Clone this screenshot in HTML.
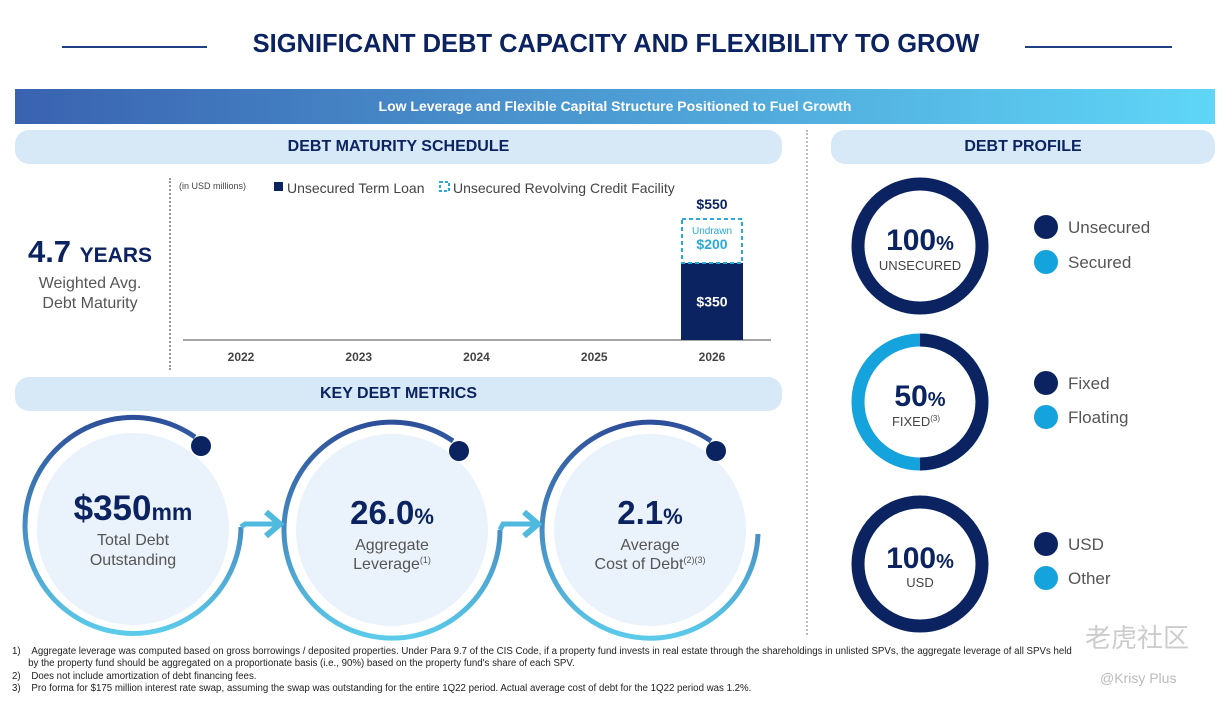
<!DOCTYPE html>
<html><head><meta charset="utf-8">
<style>
body{margin:0;width:1232px;height:705px;background:#fff;font-family:"Liberation Sans","Noto Sans CJK SC",sans-serif;position:relative;overflow:hidden;color:#0b2360}
.a{position:absolute}
.pill{position:absolute;background:#d7e9f7;border-radius:14px;text-align:center;font-weight:bold;font-size:16px;color:#0b2360;line-height:34px}
.fn{position:absolute;left:12px;font-size:9.7px;color:#222;line-height:12px;white-space:nowrap}
</style></head><body>
<div class="a" style="left:62px;top:46px;width:145px;height:2px;background:#1f3f82"></div>
<div class="a" style="left:1025px;top:46px;width:147px;height:2px;background:#1f3f82"></div>
<div class="a" style="left:200px;top:30px;width:832px;text-align:center;font-size:25.5px;font-weight:bold;color:#0b2360">SIGNIFICANT DEBT CAPACITY AND FLEXIBILITY TO GROW</div>
<div class="a" style="left:15px;top:89px;width:1200px;height:35px;background:linear-gradient(90deg,#3a62b0,#5fd6f7);color:#fff;font-weight:bold;font-size:14px;text-align:center;line-height:35px">Low Leverage and Flexible Capital Structure Positioned to Fuel Growth</div>
<div class="pill" style="left:15px;top:130px;width:767px">DEBT MATURITY SCHEDULE</div>
<div class="pill" style="left:831px;top:130px;width:384px">DEBT PROFILE</div>
<div class="pill" style="left:15px;top:377px;width:767px">KEY DEBT METRICS</div>
<div class="a" style="left:806px;top:130px;height:505px;border-left:2px dotted #bbb"></div>
<div class="a" style="left:169px;top:178px;height:192px;border-left:2px dotted #999"></div>

<div class="a" style="left:15px;top:234px;width:150px;text-align:center;font-weight:bold;font-size:31px">4.7 <span style="font-size:21px">YEARS</span></div>
<div class="a" style="left:15px;top:274px;width:150px;text-align:center;font-size:16px;color:#555;line-height:20px">Weighted Avg.<br>Debt Maturity</div>

<svg class="a" style="left:0;top:0" width="1232" height="705" id="chart">
<text x="179" y="189" font-size="9" fill="#444">(in USD millions)</text>
<rect x="274" y="182" width="9" height="9" fill="#0b2360"/>
<text x="287" y="193" font-size="14" fill="#444">Unsecured Term Loan</text>
<rect x="440" y="182" width="9" height="9" fill="none" stroke="#2aa9dd" stroke-width="2" stroke-dasharray="3,2"/>
<text x="453" y="193" font-size="14" fill="#444">Unsecured Revolving Credit Facility</text>
<line x1="183" y1="340" x2="771" y2="340" stroke="#888" stroke-width="1.5"/>
</svg>
<script>
const years=['2022','2023','2024','2025','2026'];
const termLoan=[0,0,0,0,350];
const revolver=[0,0,0,0,200];
const svg=document.getElementById('chart');const NS='http://www.w3.org/2000/svg';
const x0=241,dx=117.75,base=340,sc=(340-263)/350,bw=62;
const X=i=>x0+i*dx, H=v=>v*sc;
years.forEach((y,i)=>{
 let t=document.createElementNS(NS,'text');t.setAttribute('x',X(i));t.setAttribute('y',361);t.setAttribute('text-anchor','middle');t.setAttribute('font-size','12');t.setAttribute('font-weight','bold');t.setAttribute('fill','#444');t.textContent=y;
 
 
 svg.appendChild(t);
 if(termLoan[i]>0){
  let r=document.createElementNS(NS,'rect');let h=H(termLoan[i]);
  r.setAttribute('x',X(i)-bw/2);r.setAttribute('y',base-h);r.setAttribute('width',bw);r.setAttribute('height',h);r.setAttribute('fill','#0b2360');
  
  
  svg.appendChild(r);
  let l=document.createElementNS(NS,'text');l.setAttribute('x',X(i));l.setAttribute('y',base-h/2+5);l.setAttribute('text-anchor','middle');l.setAttribute('font-size','14');l.setAttribute('font-weight','bold');l.setAttribute('fill','#fff');l.textContent='$'+termLoan[i];svg.appendChild(l);
 }
 if(revolver[i]>0){
  let h0=H(termLoan[i]),h=H(revolver[i]);
  let r=document.createElementNS(NS,'rect');
  r.setAttribute('x',X(i)-bw/2+1);r.setAttribute('y',base-h0-h);r.setAttribute('width',bw-2);r.setAttribute('height',h);r.setAttribute('fill','none');r.setAttribute('stroke','#2aa9dd');r.setAttribute('stroke-width','2');r.setAttribute('stroke-dasharray','4,3');
  
  
  svg.appendChild(r);
  let u=document.createElementNS(NS,'text');u.setAttribute('x',X(i));u.setAttribute('y',base-h0-h+15);u.setAttribute('text-anchor','middle');u.setAttribute('font-size','10');u.setAttribute('fill','#2aa9dd');u.textContent='Undrawn';svg.appendChild(u);
  let v=document.createElementNS(NS,'text');v.setAttribute('x',X(i));v.setAttribute('y',base-h0-h+30);v.setAttribute('text-anchor','middle');v.setAttribute('font-size','14');v.setAttribute('font-weight','bold');v.setAttribute('fill','#2aa9dd');v.textContent='$'+revolver[i];svg.appendChild(v);
  let tt=document.createElementNS(NS,'text');tt.setAttribute('x',X(i));tt.setAttribute('y',base-h0-h-10);tt.setAttribute('text-anchor','middle');tt.setAttribute('font-size','14');tt.setAttribute('font-weight','bold');tt.setAttribute('fill','#0b2360');tt.textContent='$'+(termLoan[i]+revolver[i]);
  
  
  svg.appendChild(tt);
 }
});
</script>

<svg class="a" style="left:0;top:0" width="1232" height="705">
<defs><linearGradient id="g" x1="0" y1="0" x2="0" y2="1"><stop offset="0" stop-color="#2d4f9a"/><stop offset="1" stop-color="#5ccbea"/></linearGradient></defs>
<g fill="none" stroke-width="5">
<circle cx="133" cy="529" r="96" fill="#eaf3fb" stroke="none"/>
<circle cx="392" cy="530" r="96" fill="#eaf3fb" stroke="none"/>
<circle cx="650" cy="530" r="96" fill="#eaf3fb" stroke="none"/>
<path d="M195,437 A108,108 0 1 0 241,527" stroke="url(#g)"/>
<path d="M453,441 A108,108 0 1 0 500,530" stroke="url(#g)"/>
<path d="M711,441 A108,108 0 1 0 758,534" stroke="url(#g)"/>
<path d="M241,527 L245,524 L280,524" stroke="#4fb9de"/>
<path d="M266,512 L280,524 L266,536" stroke="#4fb9de" stroke-width="6"/>
<path d="M500,530 L503,524 L538,524" stroke="#4fb9de"/>
<path d="M524,512 L538,524 L524,536" stroke="#4fb9de" stroke-width="6"/>
</g>
<circle cx="201" cy="446" r="10" fill="#0b2360"/><circle cx="459" cy="451" r="10" fill="#0b2360"/><circle cx="716" cy="451" r="10" fill="#0b2360"/>
<text x="133" y="520" text-anchor="middle" font-weight="bold" font-size="35" fill="#0b2360">$350<tspan font-size="23">mm</tspan></text>
<text x="133" y="545" text-anchor="middle" font-size="16" fill="#555">Total Debt</text>
<text x="133" y="565" text-anchor="middle" font-size="16" fill="#555">Outstanding</text>
<text x="392" y="524" text-anchor="middle" font-weight="bold" font-size="33" fill="#0b2360">26.0<tspan font-size="22">%</tspan></text>
<text x="392" y="550" text-anchor="middle" font-size="16" fill="#555">Aggregate</text>
<text x="392" y="569" text-anchor="middle" font-size="16" fill="#555">Leverage<tspan font-size="9" dy="-6">(1)</tspan></text>
<text x="650" y="524" text-anchor="middle" font-weight="bold" font-size="33" fill="#0b2360">2.1<tspan font-size="22">%</tspan></text>
<text x="650" y="550" text-anchor="middle" font-size="16" fill="#555">Average</text>
<text x="650" y="569" text-anchor="middle" font-size="16" fill="#555">Cost of Debt<tspan font-size="9" dy="-6">(2)(3)</tspan></text>
</svg>

<svg class="a" style="left:0;top:0" width="1232" height="705">
<g fill="none" stroke-width="13">
<circle cx="920" cy="246" r="62" stroke="#0b2360"/>
<circle cx="920" cy="402" r="62" stroke="#14a3dd"/>
<path d="M920,340 A62,62 0 0 1 920,464" stroke="#0b2360"/>
<circle cx="920" cy="564" r="62" stroke="#0b2360"/>
</g>
<g text-anchor="middle" fill="#0b2360">
<text x="920" y="250" font-size="30" font-weight="bold">100<tspan font-size="20">%</tspan></text>
<text x="920" y="270" font-size="13" fill="#444">UNSECURED</text>
<text x="920" y="406" font-size="30" font-weight="bold">50<tspan font-size="20">%</tspan></text>
<text x="916" y="426" font-size="13" fill="#444">FIXED<tspan font-size="8" dy="-5">(3)</tspan></text>
<text x="920" y="568" font-size="30" font-weight="bold">100<tspan font-size="20">%</tspan></text>
<text x="920" y="587" font-size="13" fill="#444">USD</text>
</g>
<g font-size="17" fill="#555">
<circle cx="1046" cy="227" r="12" fill="#0b2360"/><text x="1068" y="233">Unsecured</text>
<circle cx="1046" cy="262" r="12" fill="#14a3dd"/><text x="1068" y="268">Secured</text>
<circle cx="1046" cy="383" r="12" fill="#0b2360"/><text x="1068" y="389">Fixed</text>
<circle cx="1046" cy="417" r="12" fill="#14a3dd"/><text x="1068" y="423">Floating</text>
<circle cx="1046" cy="544" r="12" fill="#0b2360"/><text x="1068" y="550">USD</text>
<circle cx="1046" cy="578" r="12" fill="#14a3dd"/><text x="1068" y="584">Other</text>
</g>
</svg>

<div class="fn" style="top:646px">1)&nbsp;&nbsp;&nbsp;&nbsp;Aggregate leverage was computed based on gross borrowings / deposited properties. Under Para 9.7 of the CIS Code, if a property fund invests in real estate through the shareholdings in unlisted SPVs, the aggregate leverage of all SPVs held<br>&nbsp;&nbsp;&nbsp;&nbsp;&nbsp;&nbsp;by the property fund should be aggregated on a proportionate basis (i.e., 90%) based on the property fund's share of each SPV.</div>
<div class="fn" style="top:671px">2)&nbsp;&nbsp;&nbsp;&nbsp;Does not include amortization of debt financing fees.</div>
<div class="fn" style="top:683px">3)&nbsp;&nbsp;&nbsp;&nbsp;Pro forma for $175 million interest rate swap, assuming the swap was outstanding for the entire 1Q22 period. Actual average cost of debt for the 1Q22 period was 1.2%.</div>
<div class="a" style="left:1085px;top:618px;font-size:26px;color:#ccc">老虎社区</div>
<div class="a" style="left:1100px;top:670px;font-size:14px;color:#bbb">@Krisy Plus</div>
</body></html>
